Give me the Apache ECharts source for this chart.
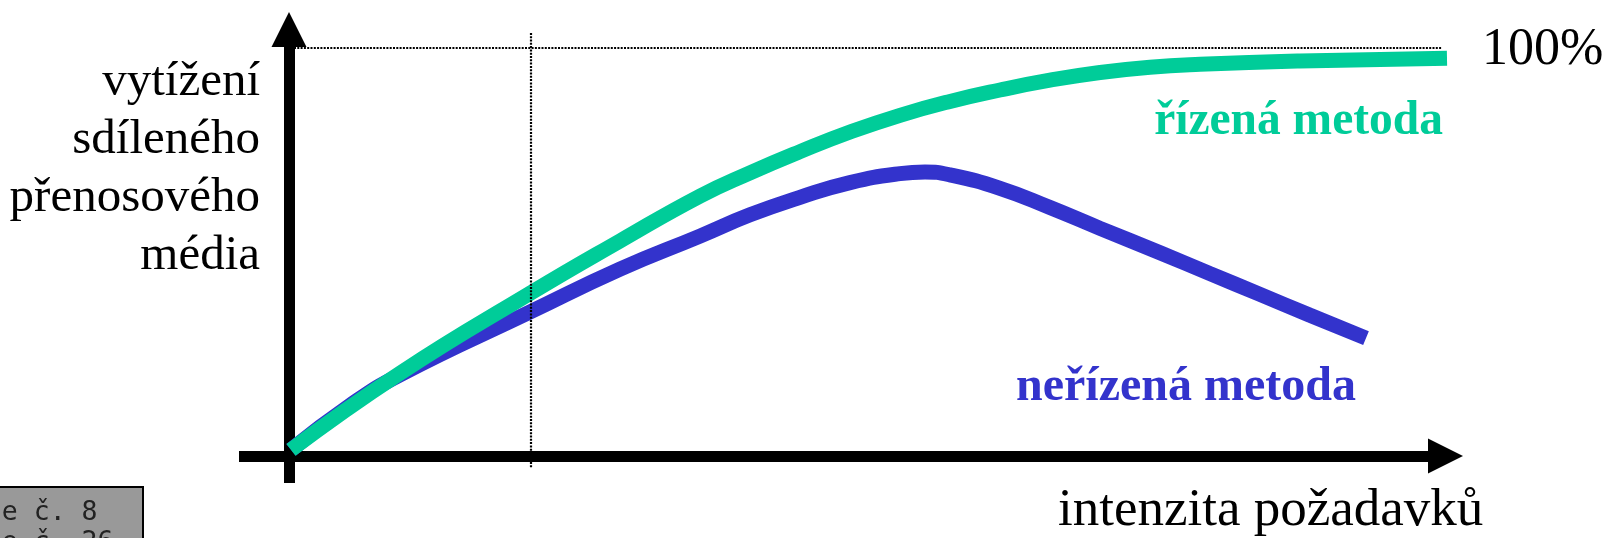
<!DOCTYPE html>
<html>
<head>
<meta charset="utf-8">
<script src="https://cdn.jsdelivr.net/npm/echarts@6/dist/echarts.min.js"></script>
<style>
html, body { margin: 0; padding: 0; background: #fff; }
#chart { width: 1608px; height: 538px; }
</style>
</head>
<body>
<div id="chart"></div>
<script>
// řízená metoda (controlled) – x is load, y is utilisation in %
const controlledX = [0.2, 11.1, 24.2, 33.1, 41.1, 46.1, 51.1, 56.1, 61.1, 66.1, 71.1, 76.1, 81.1, 86.1, 91.1, 101.1, 115.8]
const controlledY = [1.5, 20.3, 40.0, 52.7, 63.7, 69.4, 74.6, 79.4, 83.5, 86.9, 89.7, 92.1, 94.0, 95.3, 96.0, 96.8, 97.5]

// neřízená metoda (uncontrolled)
const uncontrolledX = [0.2, 6.1, 11.1, 24.2, 33.1, 41.1, 46.1, 51.1, 56.1, 61.1, 63.6, 66.1, 71.1, 76.1, 81.1, 87.1, 92.1, 97.1, 102.1, 107.7]
const uncontrolledY = [1.5, 12.4, 19.9, 35.4, 45.8, 53.9, 59.1, 63.4, 67.0, 69.2, 69.6, 68.9, 65.6, 60.9, 55.8, 49.8, 44.7, 39.6, 34.5, 28.9]

// reference lines: 100% level and the load where the curves split
const fullLevel = 100
const splitLoad = 24.2

const yLabelLines = ['vytížení', 'sdíleného', 'přenosového', 'média']
const xName = 'intenzita požadavků'
const fullText = '100%'
const controlledName = 'řízená metoda'
const uncontrolledName = 'neřízená metoda'

const toPairs = (xs, ys) => xs.map((x, i) => [x, ys[i]])

const chart = echarts.init(document.getElementById('chart'))

const serif = '"Liberation Serif", "Times New Roman", serif'
const dots = { color: '#000', width: 2.2, type: [2, 1.3] }

const axisLine = {
  onZero: true,
  symbol: ['none', 'triangle'],
  symbolSize: [35, 35],
  lineStyle: { color: '#000', width: 11, cap: 'butt' }
}

const option = {
  backgroundColor: '#fff',
  animation: false,
  grid: {
    left: 239,
    top: 29.5,
    width: 1206.5,
    height: 453.5,
    outerBoundsMode: 'none'
  },
  xAxis: {
    type: 'value',
    min: -5,
    max: 115.65,
    axisLine: axisLine,
    axisTick: { show: false },
    axisLabel: { show: false },
    splitLine: { show: false }
  },
  yAxis: {
    type: 'value',
    min: -6.62,
    max: 104.53,
    axisLine: axisLine,
    axisTick: { show: false },
    axisLabel: { show: false },
    splitLine: { show: false }
  },
  series: [
    {
      name: uncontrolledName,
      type: 'line',
      data: toPairs(uncontrolledX, uncontrolledY),
      smooth: 0.5,
      showSymbol: false,
      lineStyle: { color: '#3333CC', width: 15, cap: 'butt' },
      z: 2
    },
    {
      name: controlledName,
      type: 'line',
      data: toPairs(controlledX, controlledY),
      smooth: 0.5,
      showSymbol: false,
      lineStyle: { color: '#00CC99', width: 15, cap: 'butt' },
      z: 3
    },
    {
      // dotted guide lines only
      type: 'line',
      data: [],
      markLine: {
        silent: true,
        symbol: ['none', 'none'],
        label: { show: false },
        lineStyle: dots,
        data: [
          [{ coord: [0.5, fullLevel] }, { coord: [115.3, fullLevel] }],
          [{ coord: [splitLoad, 103.7] }, { coord: [splitLoad, -2.9] }]
        ]
      }
    }
  ],
  graphic: [
    {
      type: 'text',
      x: 260,
      y: 53,
      style: {
        text: yLabelLines.join('\n'),
        font: '49px ' + serif,
        lineHeight: 58,
        fill: '#000',
        textAlign: 'right',
        textVerticalAlign: 'top'
      }
    },
    {
      type: 'text',
      x: 1482,
      y: 50,
      style: { text: fullText, font: '52px ' + serif, fill: '#000', textAlign: 'left', textVerticalAlign: 'middle' }
    },
    {
      type: 'text',
      x: 1443,
      y: 122,
      style: { text: controlledName, font: 'bold 47.5px ' + serif, fill: '#00CC99', textAlign: 'right', textVerticalAlign: 'middle' }
    },
    {
      type: 'text',
      x: 1016,
      y: 388,
      style: { text: uncontrolledName, font: 'bold 48px ' + serif, fill: '#3333CC', textAlign: 'left', textVerticalAlign: 'middle' }
    },
    {
      type: 'text',
      x: 1058,
      y: 511,
      style: { text: xName, font: '53px ' + serif, fill: '#000', textAlign: 'left', textVerticalAlign: 'middle' }
    },
    {
      type: 'rect',
      shape: { x: -10, y: 487, width: 153, height: 80 },
      style: { fill: '#999999', stroke: '#000', lineWidth: 2 }
    },
    {
      type: 'text',
      x: -62,
      y: 498,
      style: {
        text: 'Lekce č. 8\nSlide č. 26',
        font: '26.5px "DejaVu Sans Mono", monospace',
        lineHeight: 30,
        fill: '#222',
        textAlign: 'left',
        textVerticalAlign: 'top'
      }
    }
  ]
}

chart.setOption(option)
</script>
</body>
</html>
